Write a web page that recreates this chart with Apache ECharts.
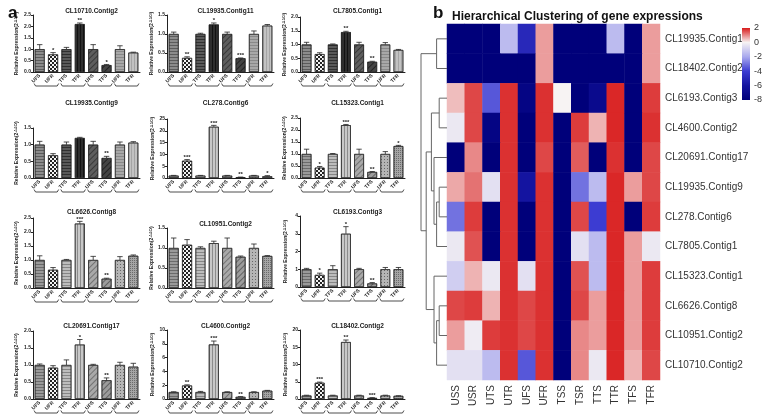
<!DOCTYPE html>
<html><head><meta charset="utf-8">
<script src="https://cdn.jsdelivr.net/npm/echarts@6/dist/echarts.min.js"></script>
<style>html,body{margin:0;padding:0;background:#fff}#c{width:778px;height:418px}</style>
</head><body><div id="c"></div>
<script>
// ---------------- DATA ----------------
const barCategories = ['UFS','UFR','TFS','TFR','UFS','TFS','UFR','TFR'];
const pairBrackets = [[0,1],[2,3],[4,5],[6,7]];
const panelTitles = ['CL10710.Contig2','CL19935.Contig11','CL7805.Contig1',
  'CL19935.Contig9','CL278.Contig6','CL15323.Contig1',
  'CL6626.Contig8','CL10951.Contig2','CL6193.Contig3',
  'CL20691.Contig17','CL4600.Contig2','CL18402.Contig2'];
const panelValues = [
  [1.0,0.77,1.0,2.1,1.0,0.3,1.0,0.85],
  [1.0,0.37,1.0,1.25,1.0,0.36,1.0,1.22],
  [1.0,0.65,1.0,1.45,1.0,0.37,1.0,0.8],
  [1.0,0.68,1.0,1.2,1.0,0.6,1.0,1.06],
  [1.0,7.3,1.0,21.7,1.0,0.3,1.0,0.7],
  [1.0,0.43,1.0,2.2,1.0,0.25,1.0,1.33],
  [1.0,0.65,1.0,2.3,1.0,0.33,1.0,1.15],
  [1.0,1.08,1.0,1.12,1.0,0.78,1.0,0.8],
  [1.0,0.68,1.0,3.0,1.0,0.2,1.0,1.0],
  [1.0,0.92,1.0,1.6,1.0,0.55,1.0,0.95],
  [1.0,1.95,1.0,7.9,1.0,0.3,1.0,1.2],
  [1.0,4.7,1.0,16.5,1.0,0.3,1.0,0.9]
];
const panelErrors = [
  [0.2,0.08,0.08,0.05,0.2,0.03,0.15,0.02],
  [0.05,0.03,0.02,0.04,0.05,0.01,0.08,0.03],
  [0.08,0.05,0.02,0.03,0.08,0.02,0.07,0.02],
  [0.1,0.05,0.08,0.02,0.1,0.05,0.08,0.03],
  [0.1,0.5,0.1,0.6,0.1,0.1,0.1,0.3],
  [0.2,0.05,0.02,0.03,0.2,0.02,0.1,0.03],
  [0.15,0.08,0.02,0.08,0.13,0.02,0.12,0.03],
  [0.25,0.13,0.03,0.05,0.25,0.02,0.1,0.01],
  [0.05,0.1,0.2,0.4,0.05,0.05,0.1,0.1],
  [0.03,0.06,0.15,0.15,0.02,0.07,0.08,0.1],
  [0.05,0.1,0.1,0.5,0.05,0.05,0.05,0.05],
  [0.1,0.2,0.1,0.6,0.1,0.1,0.1,0.05]
];
const panelStars = [
  ['','*','','**','','*','',''],
  ['','**','','*','','***','',''],
  ['','','','**','','**','',''],
  ['','','','','','**','',''],
  ['','***','','***','','**','','*'],
  ['','*','','***','','**','','*'],
  ['','','','***','','**','',''],
  ['','','','','','','',''],
  ['','*','','*','','**','',''],
  ['','','','*','','**','',''],
  ['','**','','***','','**','',''],
  ['','***','','**','','***','','']
];
const panelMax = [2.5,1.5,2.0,1.5,25,2.5,2.5,1.5,4,2.0,10,20];
const panelInterval = [0.5,0.5,0.5,0.5,5,0.5,0.5,0.5,1,0.5,2,5];

const sampleCols = ['USS','USR','UTS','UTR','UFS','UFR','TSS','TSR','TTS','TTR','TFS','TFR'];
const geneRows = ['CL19935.Contig11','CL18402.Contig2','CL6193.Contig3','CL4600.Contig2',
  'CL20691.Contig17','CL19935.Contig9','CL278.Contig6','CL7805.Contig1',
  'CL15323.Contig1','CL6626.Contig8','CL10951.Contig2','CL10710.Contig2'];
const heatValues = [
  [-8,-8,-8,-1.5,-5,0.8,-8,-8,-8,-1.5,-8,0.8],
  [-8,-8,-8,-8,-8,0.8,-8,-8,-8,-8,-8,0.8],
  [0.5,1.6,-3.5,1.8,-7.5,1.8,0,-8,-7,1.9,-8,1.7],
  [-0.3,1.6,-7.5,1.8,-8,1.8,-8,1.7,0.6,1.9,-8,1.8],
  [-8,1.0,-8,1.8,-8,1.6,-8,1.4,-8,1.8,-8,1.6],
  [0.7,1.2,-0.5,1.8,-6,1.8,-8,-3,-1.5,1.9,0.8,1.6],
  [-3,1.7,-8,1.8,-8,1.8,-8,1.6,-4,1.9,-8,1.7],
  [-0.3,1.5,-8,1.8,-8,1.8,-8,-0.5,-1.5,1.9,0.8,-0.3],
  [-1,0.6,-0.3,1.8,-0.5,1.8,-8,1.5,-1.5,1.9,0.8,1.7],
  [1.6,1.7,0.6,1.8,1.6,1.8,-8,1.6,0.8,1.9,0.8,1.7],
  [0.8,-0.2,1.7,1.8,1.6,1.8,-8,1.0,0.8,1.9,0.8,1.7],
  [-0.5,-0.5,-1.5,1.8,-3.5,1.8,-8,1.0,-0.3,1.9,0.6,1.6]
];
// dendrogram merges: [childA, childB, height]; leaves 0..11, merged nodes 12..
const dendroMerges = [
  [0,1,4],[2,3,3],[5,6,3],[14,7,4],[4,15,5],[13,16,6],
  [9,10,3],[18,11,4],[8,19,5],[17,20,8],[12,21,10]
];
const colorTicks = [-8,-6,-4,-2,0,2];
const colorScale = ['#00007a','#1414a0','#3c3cd2','#a8a8ee','#f7f3f3','#d81c1c'];

// ---------------- LAYOUT / STYLE ----------------
const colLeft=[33,167,300], colWidth=[107,107,105];
const panelTop=[15,15,17,128,119,118,218,228,216,331,330,330];
const panelBottom=[72,72,72,178,178,178,288,288,287,399,399,399];
const titleTop=[3,3,3,95,95,95,204,216,204,318,318,318];

const hLines = c=>({symbol:'rect',symbolSize:1,dashArrayX:[1,0],dashArrayY:[1,2],rotation:0,color:c});
const vLines = c=>({symbol:'rect',symbolSize:1,dashArrayX:[1,0],dashArrayY:[1,2],rotation:Math.PI/2,color:c});
const dLines = c=>({symbol:'rect',symbolSize:1,dashArrayX:[1,0],dashArrayY:[1,2.5],rotation:-Math.PI/4,color:c});
const checker = {symbol:'rect',symbolSize:1,dashArrayX:[[2,2],[0,2,2,0]],dashArrayY:[2,0],rotation:0,color:'#222'};
const darkStyles = [
  {color:'#8c8c8c',decal:hLines('rgba(60,60,60,0.6)')},
  {color:'#f4f4f4',decal:checker},
  {color:'#5a5a5a',decal:hLines('rgba(20,20,20,0.6)')},
  {color:'#2e2e2e',decal:vLines('rgba(0,0,0,0.6)')},
  {color:'#5e5e5e',decal:dLines('rgba(20,20,20,0.5)')},
  {color:'#444',decal:dLines('rgba(0,0,0,0.5)')},
  {color:'#a8a8a8',decal:hLines('rgba(90,90,90,0.4)')},
  {color:'#c2c2c2',decal:vLines('rgba(120,120,120,0.4)')}
];
const lightStyles = [
  {color:'#9a9a9a',decal:hLines('rgba(60,60,60,0.5)')},
  {color:'#f4f4f4',decal:checker},
  {color:'#bdbdbd',decal:hLines('rgba(80,80,80,0.5)')},
  {color:'#c8c8c8',decal:vLines('rgba(80,80,80,0.5)')},
  {color:'#a9a9a9',decal:dLines('rgba(60,60,60,0.5)')},
  {color:'#9c9c9c',decal:dLines('rgba(40,40,40,0.5)')},
  {color:'#b5b5b5',decal:{symbol:'rect',symbolSize:1,dashArrayX:[1,2],dashArrayY:[1,2],color:'rgba(50,50,50,0.6)'}},
  {color:'#a5a5a5',decal:{symbol:'rect',symbolSize:1,dashArrayX:[1,1],dashArrayY:[1,1],color:'rgba(50,50,50,0.5)'}}
];
const panelDark = [1,1,1,1,0,0,0,0,0,0,0,0];

const F='"Liberation Sans", Arial, sans-serif';
const grid=[], xAxis=[], yAxis=[], series=[], title=[];

panelTitles.forEach((t,p)=>{
  const c=p%3;
  const gi=grid.length;
  grid.push({left:colLeft[c],top:panelTop[p],width:colWidth[c],height:panelBottom[p]-panelTop[p]});
  title.push({text:t,left:colLeft[c]+colWidth[c]/2,top:titleTop[p],textAlign:'center',
    textStyle:{fontSize:6.5,fontWeight:'bold',fontFamily:F,color:'#222'}});
  xAxis.push({type:'category',gridIndex:gi,data:barCategories,
    axisLine:{lineStyle:{color:'#222',width:1}},axisTick:{show:false},
    axisLabel:{rotate:45,fontSize:5,fontWeight:'bold',fontFamily:F,color:'#222',margin:3,interval:0}});
  const iv=panelInterval[p];
  yAxis.push({type:'value',gridIndex:gi,min:0,max:panelMax[p],interval:iv,
    axisLine:{show:true,lineStyle:{color:'#222',width:1}},
    axisTick:{show:true,length:2,lineStyle:{color:'#222'}},splitLine:{show:false},
    axisLabel:{fontSize:5,fontWeight:'bold',fontFamily:F,color:'#222',margin:2,
      formatter:v=> iv<1 ? v.toFixed(1) : String(v)},
    name:'Relative Expression(2{s|-ΔΔCt})',nameLocation:'middle',nameGap:p%3===0?14:(iv<1?13:12),
    nameTextStyle:{fontSize:5,fontWeight:'bold',fontFamily:F,color:'#222',
      rich:{s:{fontSize:3.5,fontWeight:'bold',verticalAlign:'top',color:'#222'}}}});
  const styles = panelDark[p]?darkStyles:lightStyles;
  series.push({type:'bar',xAxisIndex:gi,yAxisIndex:gi,barWidth:'74%',silent:true,
    data:panelValues[p].map((v,i)=>({value:v,itemStyle:Object.assign({borderColor:'#222',borderWidth:0.6},styles[i])}))});
  const errs=panelErrors[p], stars=panelStars[p];
  series.push({type:'custom',xAxisIndex:gi,yAxisIndex:gi,clip:false,silent:true,z:5,
    data:panelValues[p].map((v,i)=>[i,v,errs[i]]),
    renderItem:(params,api)=>{
      const i=api.value(0), v=api.value(1), e=api.value(2);
      const x=api.coord([i,0])[0];
      const y0=api.coord([i,v])[1], y1=api.coord([i,v+e])[1];
      const cap=api.size([1,0])[0]*0.74*0.55;
      const ch=[
        {type:'line',shape:{x1:x,y1:y0,x2:x,y2:y1},style:{stroke:'#222',lineWidth:0.8}},
        {type:'line',shape:{x1:x-cap/2,y1:y1,x2:x+cap/2,y2:y1},style:{stroke:'#222',lineWidth:0.8}}
      ];
      const s=stars[params.dataIndex];
      if(s) ch.push({type:'text',style:{text:s,x:x,y:y1+0.5,align:'center',verticalAlign:'bottom',
        fontSize:6,fontWeight:'bold',fontFamily:F,fill:'#222'}});
      return {type:'group',children:ch};
    }});
  series.push({type:'custom',xAxisIndex:gi,yAxisIndex:gi,clip:false,silent:true,
    data:pairBrackets,
    renderItem:(params,api)=>{
      const a=api.value(0), b=api.value(1);
      const w=api.size([1,0])[0];
      const xa=api.coord([a,0])[0]-w*0.42, xb=api.coord([b,0])[0]+w*0.42;
      const y=api.coord([a,0])[1]+14;
      return {type:'polyline',shape:{points:[[xa,y-2.5],[xa+1.5,y],[xb-1.5,y],[xb,y-2.5]]},
        style:{stroke:'#222',lineWidth:0.8,fill:null}};
    }});
});

// ---- heatmap ----
const hmGrid=grid.length;
grid.push({left:447,top:24,width:213,height:356});
xAxis.push({type:'category',gridIndex:hmGrid,data:sampleCols,position:'bottom',
  axisLine:{show:false},axisTick:{show:false},
  axisLabel:{rotate:90,fontSize:10,fontFamily:F,color:'#333',margin:5,interval:0}});
yAxis.push({type:'category',gridIndex:hmGrid,data:geneRows,inverse:true,position:'right',
  axisLine:{show:false},axisTick:{show:false},
  axisLabel:{fontSize:10,fontFamily:F,color:'#333',margin:5,interval:0}});
const hmData=[];
heatValues.forEach((row,r)=>row.forEach((v,c)=>hmData.push([c,r,v])));
const hmSeriesIndex=series.length;
series.push({type:'heatmap',xAxisIndex:hmGrid,yAxisIndex:hmGrid,data:hmData,silent:true});

// ---- dendrogram ----
const dGrid=grid.length;
grid.push({left:421,top:24,width:26,height:356});
const rootH=dendroMerges[dendroMerges.length-1][2];
xAxis.push({type:'value',gridIndex:dGrid,min:0,max:rootH,inverse:true,show:false});
yAxis.push({type:'value',gridIndex:dGrid,min:-0.5,max:geneRows.length-0.5,inverse:true,show:false});
const nodePos=geneRows.map((_,i)=>i), nodeH=geneRows.map(()=>0);
dendroMerges.forEach(m=>{nodePos.push((nodePos[m[0]]+nodePos[m[1]])/2);nodeH.push(m[2]);});
series.push({type:'custom',xAxisIndex:dGrid,yAxisIndex:dGrid,clip:false,silent:true,
  data:dendroMerges.map(m=>[nodeH[m[0]],nodePos[m[0]],nodeH[m[1]],nodePos[m[1]],m[2]]),
  renderItem:(params,api)=>{
    const h=api.value(4);
    const p1=api.coord([api.value(0),api.value(1)]), p2=api.coord([h,api.value(1)]);
    const p3=api.coord([h,api.value(3)]), p4=api.coord([api.value(2),api.value(3)]);
    return {type:'polyline',shape:{points:[p1,p2,p3,p4]},style:{stroke:'#666',lineWidth:1,fill:null}};
  }});

// ---- colorbar ----
const cGrid=grid.length;
grid.push({left:742,top:28,width:8,height:72});
xAxis.push({type:'value',gridIndex:cGrid,min:0,max:1,show:false});
yAxis.push({type:'value',gridIndex:cGrid,min:colorTicks[0],max:colorTicks[colorTicks.length-1],interval:2,
  position:'right',axisLine:{show:false},axisTick:{show:false},splitLine:{show:false},
  axisLabel:{fontSize:9,fontFamily:F,color:'#333',margin:4}});
series.push({type:'custom',xAxisIndex:cGrid,yAxisIndex:cGrid,silent:true,
  data:[[0,colorTicks[0],1,colorTicks[colorTicks.length-1]]],
  renderItem:(params,api)=>{
    const a=api.coord([api.value(0),api.value(3)]), b=api.coord([api.value(2),api.value(1)]);
    const stops=colorScale.map((c,i)=>({offset:1-i/(colorScale.length-1),color:c}));
    stops.sort((s,t)=>s.offset-t.offset);
    return {type:'rect',shape:{x:a[0],y:a[1],width:b[0]-a[0],height:b[1]-a[1]},
      style:{fill:new echarts.graphic.LinearGradient(0,0,0,1,stops)}};
  }});

title.push({text:'a',left:3,top:0,textStyle:{fontSize:17,fontWeight:'bold',fontFamily:F,color:'#111'}});
title.push({text:'b',left:428,top:0,textStyle:{fontSize:17,fontWeight:'bold',fontFamily:F,color:'#111'}});
title.push({text:'Hierarchical Clustering of gene expressions',left:447,top:6,
  textStyle:{fontSize:12,fontWeight:'bold',fontFamily:F,color:'#111'}});

const chart=echarts.init(document.getElementById('c'),null,{renderer:'canvas'});
chart.setOption({animation:false,backgroundColor:'#fff',title,grid,xAxis,yAxis,series,
  visualMap:{show:false,type:'continuous',seriesIndex:hmSeriesIndex,min:-8,max:2,
    inRange:{color:colorScale}}});
</script></body></html>
